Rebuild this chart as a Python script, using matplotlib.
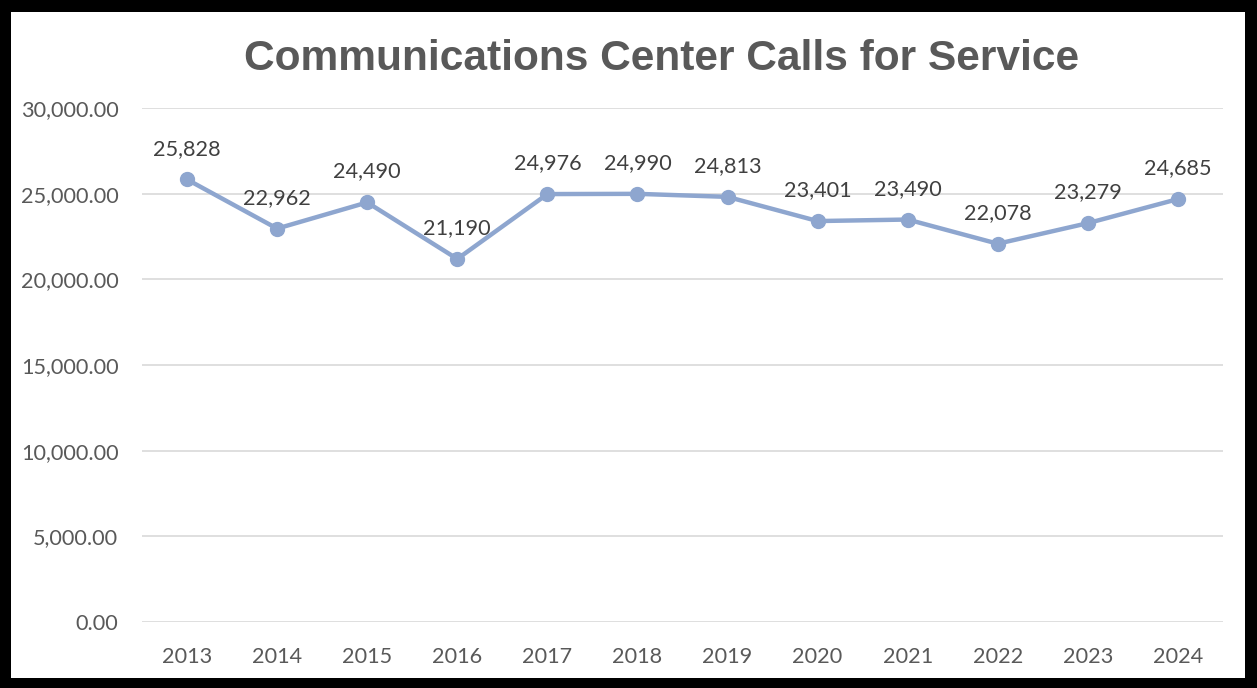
import matplotlib
matplotlib.use("Agg")
import matplotlib.pyplot as plt
from matplotlib.patches import Rectangle
from matplotlib.ticker import FuncFormatter

years = ["2013", "2014", "2015", "2016", "2017", "2018", "2019", "2020", "2021", "2022", "2023", "2024"]
calls = [25828, 22962, 24490, 21190, 24976, 24990, 24813, 23401, 23490, 22078, 23279, 24685]
y_ticks = [0, 5000, 10000, 15000, 20000, 25000, 30000]
title = "Communications Center Calls for Service"

W, H = 1257, 688
fig = plt.figure(figsize=(W / 100, H / 100), dpi=100)
fig.patch.set_facecolor("black")
fig.add_artist(Rectangle((11 / W, 10 / H), (1245 - 11) / W, (676 - 10) / H,
                         transform=fig.transFigure, facecolor="white", edgecolor="none", zorder=0))

ax = fig.add_axes([142 / W, 1 - 622 / H, (1223 - 142) / W, (622 - 108) / H])
ax.set_facecolor("none")
x = list(range(len(years)))
line_color = "#8EA6CF"
ax.plot(x, calls, color=line_color, lw=3.2, marker="o", ms=10, zorder=3, solid_capstyle="round")

for xi, v in zip(x, calls):
    ax.annotate(f"{v:,}", (xi, v), xytext=(0, 15), textcoords="offset points",
                ha="center", va="bottom", fontsize=15.6, color="#404040", family="Lato")

ax.set_xlim(-0.5, len(years) - 0.5)
ax.set_ylim(0, 30000)
ax.set_yticks(y_ticks)
ax.yaxis.set_major_formatter(FuncFormatter(lambda v, p: f"{v:,.2f}"))
ax.set_xticks(x)
ax.set_xticklabels(years)
ax.grid(axis="y", color="#D9D9D9", lw=1.2)
ax.set_axisbelow(True)
for s in ax.spines.values():
    s.set_visible(False)
ax.tick_params(axis="both", length=0, labelsize=15.6, labelcolor="#595959")
ax.tick_params(axis="y", pad=17)
ax.tick_params(axis="x", pad=18)
for lab in ax.get_xticklabels() + ax.get_yticklabels():
    lab.set_family("Lato")

fig.text(662 / W, 1 - 59 / H, title, ha="center", va="center", fontsize=30.6,
         fontweight="bold", color="#595959", family="Liberation Sans")

fig.savefig("out.png", dpi=100, facecolor=fig.get_facecolor())
